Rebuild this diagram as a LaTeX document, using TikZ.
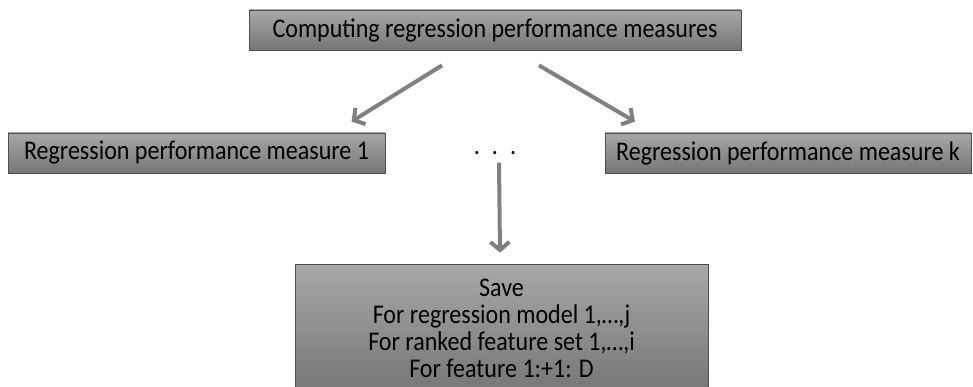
\documentclass[tikz,border=0pt]{standalone}
\usepackage{fontspec}
\setmainfont{Carlito}[FakeStretch=0.89]
\usetikzlibrary{arrows.meta, positioning, calc}
\definecolor{boxtop}{RGB}{168, 168, 168}
\definecolor{boxbot}{RGB}{118, 118, 118}
\definecolor{boxline}{RGB}{80, 80, 80}
\definecolor{flowgray}{RGB}{128, 128, 128}
\tikzset{
  measurebox/.style={draw=boxline, line width=0.8pt, top color=boxtop, bottom color=boxbot, inner sep=0pt, align=center, font=\fontsize{27}{27}\selectfont},
  flow/.style={draw=flowgray, line width=4pt, -{Straight Barb[length=8pt, width=19pt]}}
}

\begin{document}
\begin{tikzpicture}[x=1pt, y=-1pt]
  \useasboundingbox (0, 0) rectangle (973, 387);

  % Main task
  \node[measurebox, minimum width=492pt, minimum height=40pt] (compute) at (495, 30) {Computing regression performance measures};

  % Individual measures
  \node[measurebox, minimum width=377pt, minimum height=40pt] (measure1) at (196.5, 153) {Regression performance measure 1};
  \node[measurebox, minimum width=366pt, minimum height=40pt] (measurek) at (788, 153) {Regression performance measure k};
  \node[font=\fontsize{27}{27}\selectfont, anchor=base] (dots) at (495, 155) {.\hspace{12pt}.\hspace{12pt}.};

  % Saved results
  \node[measurebox, minimum width=413pt, minimum height=128pt] (save) at (501.5, 328) {
    Save\\For regression model 1,…,j\\For ranked feature set 1,…,i\\For feature 1:+1: D
  };

  \draw[flow] ([xshift=-53pt, yshift=-15pt]compute.south) -- ([xshift=155pt, yshift=11pt]measure1.north);
  \draw[flow] ([xshift=44pt, yshift=-15pt]compute.south) -- ([xshift=-153pt, yshift=11pt]measurek.north);
  \draw[flow] ([xshift=4pt, yshift=-4pt]dots.south) -- ([xshift=-1.5pt, yshift=11pt]save.north);
\end{tikzpicture}
\end{document}
